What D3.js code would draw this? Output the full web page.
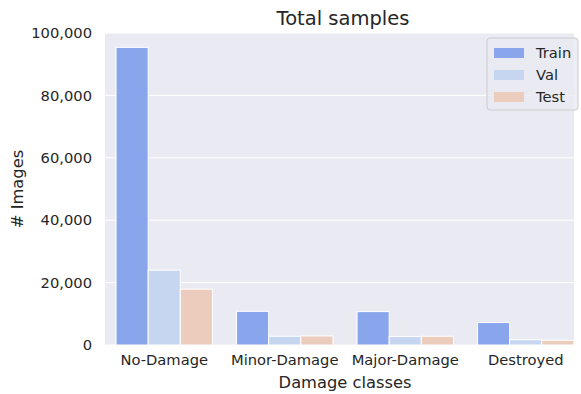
<!DOCTYPE html>
<html>
<head>
<meta charset="utf-8">
<script src="https://cdn.jsdelivr.net/npm/d3@7"></script>
<style>
  body { margin: 0; background: #fff; }
  text { font-family: "DejaVu Sans", sans-serif; fill: #262626; }
</style>
</head>
<body>
<div id="chart"></div>
<script>
const categories = ['No-Damage', 'Minor-Damage', 'Major-Damage', 'Destroyed'];
const seriesNames = ['Train', 'Val', 'Test'];
const train = [95400, 10800, 10700, 7200];
const val = [24000, 2800, 2700, 1700];
const test = [17900, 2900, 2800, 1500];
const yTicks = [0, 20000, 40000, 60000, 80000, 100000];
const colors = ['#89a5ec', '#c6d6f0', '#ecccbd'];

const W = 581, H = 394;
const plotLeft = 105, plotRight = 574, plotTop = 33, plotBottom = 345;

const svg = d3.select('#chart').append('svg')
    .attr('width', W).attr('height', H);

const x = d3.scaleBand().domain(categories).range([104, 586]).padding(0);
const xInner = d3.scaleBand().domain(seriesNames)
    .range([x.bandwidth() * 0.1, x.bandwidth() * 0.9]).padding(0);
const y = d3.scaleLinear().domain([0, 100000]).range([plotBottom, plotTop]);

svg.append('rect')
    .attr('x', plotLeft).attr('y', plotTop)
    .attr('width', plotRight - plotLeft).attr('height', plotBottom - plotTop)
    .attr('fill', '#eaeaf2');

svg.append('g').selectAll('line')
    .data(yTicks)
    .enter().append('line')
    .attr('x1', plotLeft).attr('x2', plotRight)
    .attr('y1', d => y(d)).attr('y2', d => y(d))
    .attr('stroke', '#fff').attr('stroke-width', 1);

const table = categories.map((c, i) => ({ cat: c, values: [train[i], val[i], test[i]] }));

const groups = svg.append('g').selectAll('g')
    .data(table)
    .enter().append('g')
    .attr('transform', d => `translate(${x(d.cat)},0)`);

groups.selectAll('rect')
    .data(d => d.values.map((v, j) => ({ name: seriesNames[j], value: v, j })))
    .enter().append('rect')
    .attr('x', d => xInner(d.name))
    .attr('y', d => y(d.value))
    .attr('width', xInner.bandwidth())
    .attr('height', d => plotBottom - y(d.value))
    .attr('fill', d => colors[d.j])
    .attr('stroke', '#fff')
    .attr('stroke-width', 1);

// y axis
const yAxis = svg.append('g')
    .attr('transform', `translate(${plotLeft},0)`)
    .call(d3.axisLeft(y).tickValues(yTicks).tickSize(0).tickPadding(13).tickFormat(d3.format(',')));
yAxis.select('.domain').remove();
yAxis.selectAll('text').style('font-size', '14.7px').attr('fill', '#262626');

// x axis
const xAxis = svg.append('g')
    .attr('transform', `translate(0,${plotBottom})`)
    .call(d3.axisBottom(x).tickSize(0).tickPadding(10));
xAxis.select('.domain').remove();
xAxis.selectAll('text').style('font-size', '14.7px').attr('fill', '#262626');

svg.append('text')
    .attr('x', 345).attr('y', 388)
    .attr('text-anchor', 'middle')
    .style('font-size', '16.3px')
    .text('Damage classes');

svg.append('text')
    .attr('transform', `translate(23,${(plotTop + plotBottom) / 2}) rotate(-90)`)
    .attr('text-anchor', 'middle')
    .style('font-size', '16.3px')
    .text('# Images');

svg.append('text')
    .attr('x', 343).attr('y', 25)
    .attr('text-anchor', 'middle')
    .style('font-size', '19.5px')
    .text('Total samples');

// legend
const legend = svg.append('g').attr('transform', 'translate(487,38)');
legend.append('rect')
    .attr('width', 91).attr('height', 72).attr('rx', 3)
    .attr('fill', '#eaeaf2').attr('fill-opacity', 0.8)
    .attr('stroke', '#cccccc').attr('stroke-width', 1);
const items = legend.selectAll('.item')
    .data(seriesNames)
    .enter().append('g')
    .attr('class', 'item')
    .attr('transform', (d, i) => `translate(0,${8 + i * 22})`);
items.append('rect')
    .attr('x', 7).attr('y', 2)
    .attr('width', 30).attr('height', 10)
    .attr('fill', (d, i) => colors[i]);
items.append('text')
    .attr('x', 49).attr('y', 12)
    .style('font-size', '14.7px')
    .text(d => d);
</script>
</body>
</html>
